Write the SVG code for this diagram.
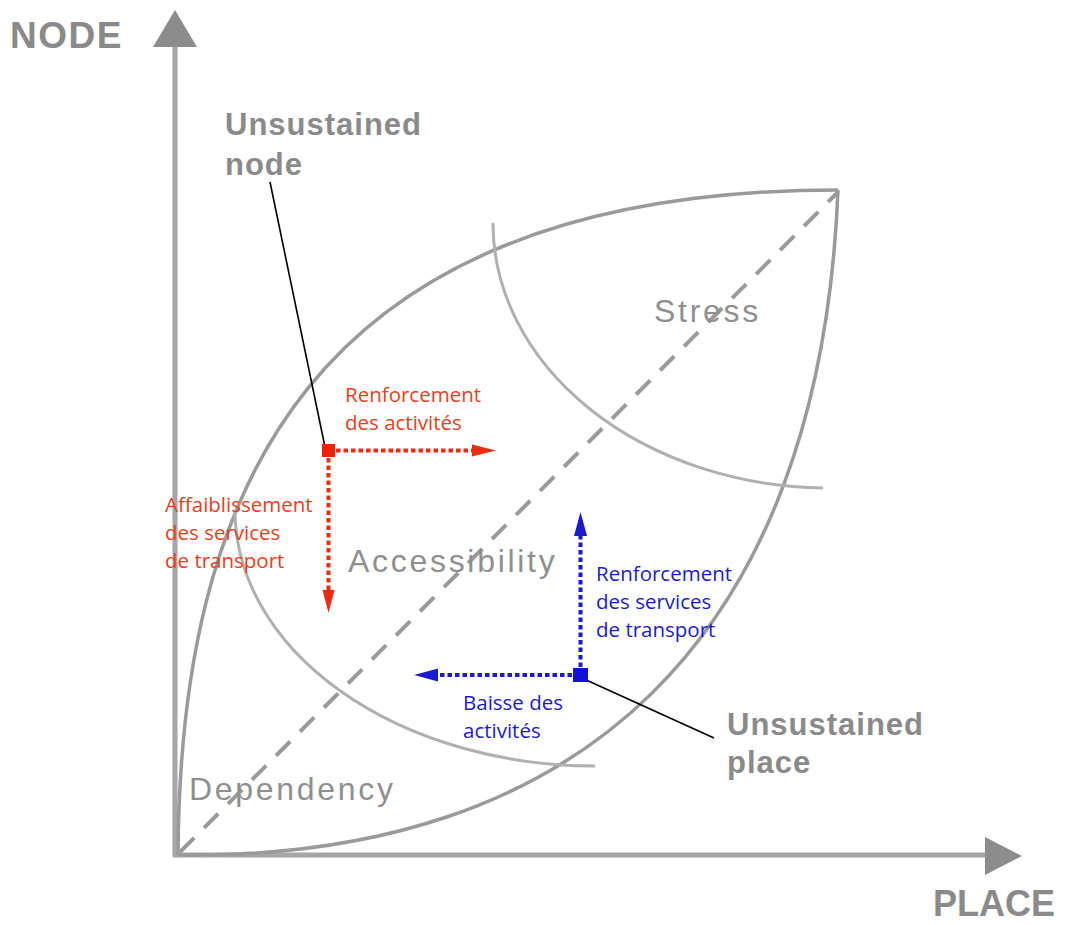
<svg xmlns="http://www.w3.org/2000/svg" width="1069" height="925" viewBox="0 0 1069 925">
  <style>
    .axis { stroke: #a6a6a6; stroke-width: 5; fill: none; }
    .axhead { fill: #8c8c8c; }
    .leaf { stroke: #9a9a9a; stroke-width: 3.5; fill: none; }
    .arc { stroke: #b0b0b0; stroke-width: 3; fill: none; }
    .diag { stroke: #9a9a9a; stroke-width: 4; fill: none; stroke-dasharray: 20 14; }
    .glabel { font-family: "Liberation Sans", Arial, sans-serif; fill: #8a8a8a; }
    .big { font-size: 37px; font-weight: bold; }
    .bold { font-size: 31px; font-weight: bold; letter-spacing: 1px; }
    .zone { font-size: 32px; letter-spacing: 2.7px; fill: #8f8f8f; }
    .note { font-family: "Open Sans", "Noto Sans", sans-serif; font-size: 20.5px; }
    .red { fill: #e8401e; }
    .blue { fill: #1c1cc4; }
    .rdot { stroke: #ee2a10; stroke-width: 4; stroke-dasharray: 4.5 3; fill: none; }
    .bdot { stroke: #1a1ad0; stroke-width: 4; stroke-dasharray: 4.5 3; fill: none; }
    .lead { stroke: #000; stroke-width: 1.6; fill: none; }
  </style>

  <g id="axes">
    <line class="axis" x1="175" y1="44" x2="175" y2="857"/>
    <polygon class="axhead" points="175,10 197,47 153,47"/>
    <line class="axis" x1="173" y1="855" x2="988" y2="855"/>
    <polygon class="axhead" points="1022,856 985,837 985,875"/>
    <text class="glabel big" x="10" y="48" letter-spacing="1.5">NODE</text>
    <text class="glabel" x="933" y="916" font-size="36" font-weight="bold">PLACE</text>
  </g>

  <g id="leaf">
    <path class="leaf" d="M178,855 C180,500 300,190 838,190"/>
    <path class="leaf" d="M178,855 C580,860 820,640 838,190"/>
    <path class="diag" d="M180,852 L838,192"/>
  </g>

  <g id="stress">
    <path class="arc" d="M493,223 A337 265 0 0 0 823,488"/>
    <text class="glabel zone" x="654" y="322">Stress</text>
  </g>

  <g id="accessibility">
    <path class="arc" d="M235,510 A360 256 0 0 0 595,766"/>
    <text class="glabel zone" x="348" y="572">Accessibility</text>
  </g>

  <g id="dependency">
    <text class="glabel zone" x="189" y="800">Dependency</text>
  </g>

  <g id="unsustained-node">
    <text class="glabel bold" x="225" y="135">Unsustained</text>
    <text class="glabel bold" x="225" y="175">node</text>
  </g>

  <g id="unsustained-place">
    <text class="glabel bold" x="727" y="735">Unsustained</text>
    <text class="glabel bold" x="727" y="773">place</text>
  </g>

  <g id="connectors">
    <line class="lead" x1="270" y1="182" x2="325" y2="447"/>
    <line class="lead" x1="584" y1="679" x2="714" y2="738"/>
    <line class="rdot" x1="336" y1="450.5" x2="474" y2="450.5"/>
    <polygon fill="#ee2a10" points="496,450.5 472,444.5 472,456.5"/>
    <line class="rdot" x1="328.5" y1="458" x2="328.5" y2="592"/>
    <polygon fill="#ee2a10" points="328.5,613 322.5,590 334.5,590"/>
    <line class="bdot" x1="580.5" y1="667" x2="580.5" y2="533"/>
    <polygon fill="#1a1ad0" points="580.5,512 574,536 587,536"/>
    <line class="bdot" x1="572" y1="675" x2="436" y2="675"/>
    <polygon fill="#1a1ad0" points="414,675 438,668.5 438,681.5"/>
  </g>

  <g id="red-node">
    <rect x="322" y="444" width="13" height="13" fill="#ee2200"/>
    <text class="note red" x="345" y="402">Renforcement</text>
    <text class="note red" x="345" y="430">des activités</text>
    <text class="note red" x="165" y="512">Affaiblissement</text>
    <text class="note red" x="165" y="540">des services</text>
    <text class="note red" x="165" y="568">de transport</text>
  </g>

  <g id="blue-node">
    <rect x="573" y="668" width="15" height="14" fill="#1010d8"/>
    <text class="note blue" x="596" y="581">Renforcement</text>
    <text class="note blue" x="596" y="609">des services</text>
    <text class="note blue" x="596" y="637">de transport</text>
    <text class="note blue" x="463" y="710">Baisse des</text>
    <text class="note blue" x="463" y="738">activités</text>
  </g>
</svg>
